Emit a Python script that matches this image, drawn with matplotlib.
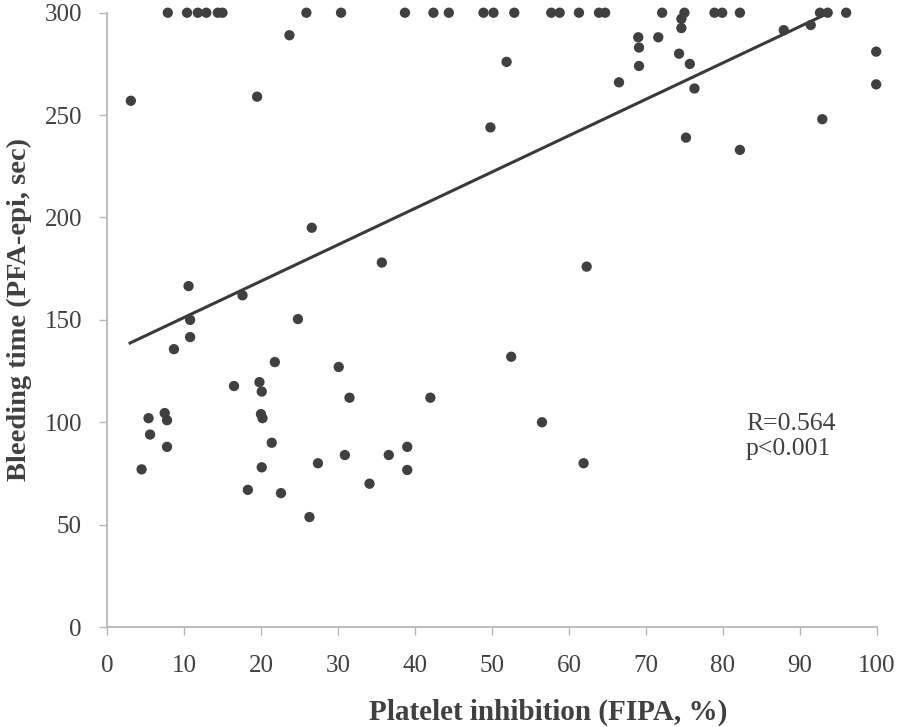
import matplotlib
matplotlib.use("Agg")
import matplotlib.pyplot as plt

# Platelet inhibition (FIPA, %) values
fipa = [
    # capped at 300
    7.9, 10.4, 11.8, 12.9, 14.4, 15.0, 25.9, 30.4, 38.7, 42.4, 44.4, 48.9,
    50.2, 52.9, 57.7, 58.8, 61.3, 63.9, 64.7, 72.1, 75.0, 78.9, 79.9, 82.2,
    92.6, 93.6, 96.0,
    # upper region
    3.1, 19.5, 23.7, 51.9, 49.8, 26.6, 74.6, 74.6, 69.0, 69.1, 71.6, 69.1,
    74.3, 75.7, 66.5, 76.3, 75.2, 82.2, 87.9, 91.4, 99.9, 99.9, 92.9,
    # middle region
    10.6, 10.8, 10.8, 8.7, 17.6, 24.8, 35.7, 62.3, 30.1, 52.5, 31.5, 42.0,
    56.5, 27.4, 30.9, 36.6, 39.0, 39.0, 61.9, 34.1, 21.8, 16.5, 19.8, 20.1,
    # lower region
    5.4, 7.5, 7.8, 20.0, 20.2, 5.6, 7.8, 21.4, 4.5, 20.1, 18.3, 22.6, 26.3,
]
# Bleeding time (PFA-epi, sec) values
pfa = [
    300, 300, 300, 300, 300, 300, 300, 300, 300, 300, 300, 300,
    300, 300, 300, 300, 300, 300, 300, 300, 300, 300, 300, 300,
    300, 300, 300,
    257, 259, 289, 276, 244, 195, 297, 292.5, 288, 283, 288, 274,
    280, 275, 266, 263, 239, 233, 291.5, 294, 281, 265, 248,
    166.5, 150, 141.6, 135.7, 162, 150.4, 178, 176, 127, 132, 112, 112,
    100, 80, 84, 84, 88, 76.7, 80, 70, 129.4, 117.7, 119.6, 115,
    102, 104.5, 101, 104, 102, 94, 88, 90, 77, 78, 67, 65.4, 53.7,
]

# regression line end points
fit_x = [3.0, 93.5]
fit_y = [138.7, 299.5]

x_ticks = [0, 10, 20, 30, 40, 50, 60, 70, 80, 90, 100]
y_ticks = [0, 50, 100, 150, 200, 250, 300]

serif = ["Liberation Serif", "DejaVu Serif"]
plt.rcParams["font.family"] = serif

dark = "#404040"
axis_grey = "#b8b8b8"

fig = plt.figure(figsize=(9.08, 7.27), dpi=100)
ax = fig.add_axes([0.1178, 0.1375, 0.8480, 0.8450])

ax.plot(fit_x, fit_y, color="#3a3a3a", linewidth=2.2, zorder=2, clip_on=False)
ax.scatter(fipa, pfa, s=55, color=dark, edgecolors="none", zorder=3, clip_on=False)

ax.set_xlim(0, 100)
ax.set_ylim(0, 300)
ax.set_xticks(x_ticks)
ax.set_yticks(y_ticks)
ax.set_xticklabels([str(v) for v in x_ticks])
ax.set_yticklabels([str(v) for v in y_ticks])

for side in ["top", "right"]:
    ax.spines[side].set_visible(False)
for side in ["left", "bottom"]:
    ax.spines[side].set_color(axis_grey)
    ax.spines[side].set_linewidth(1.3)

ax.tick_params(axis="both", direction="out", length=6, width=1.0,
               color=axis_grey, labelsize=18, labelcolor=dark)
ax.tick_params(axis="y", pad=12)
ax.tick_params(axis="x", pad=14)

fig.text(0.604, 1 - 712 / 727, "Platelet inhibition (FIPA, %)", fontsize=21,
         fontweight="bold", color=dark, ha="center", va="center")
fig.text(0.021, 1 - 310 / 727, "Bleeding time (PFA-epi, sec)", fontsize=20.5,
         fontweight="bold", color=dark, ha="center", va="center", rotation=90)

ax.text(83.0, 96, "R=0.564", fontsize=18.5, color=dark, va="baseline", ha="left")
ax.text(83.0, 84, "p<0.001", fontsize=18.5, color=dark, va="baseline", ha="left")

fig.savefig("out.png", dpi=100, facecolor="white")
